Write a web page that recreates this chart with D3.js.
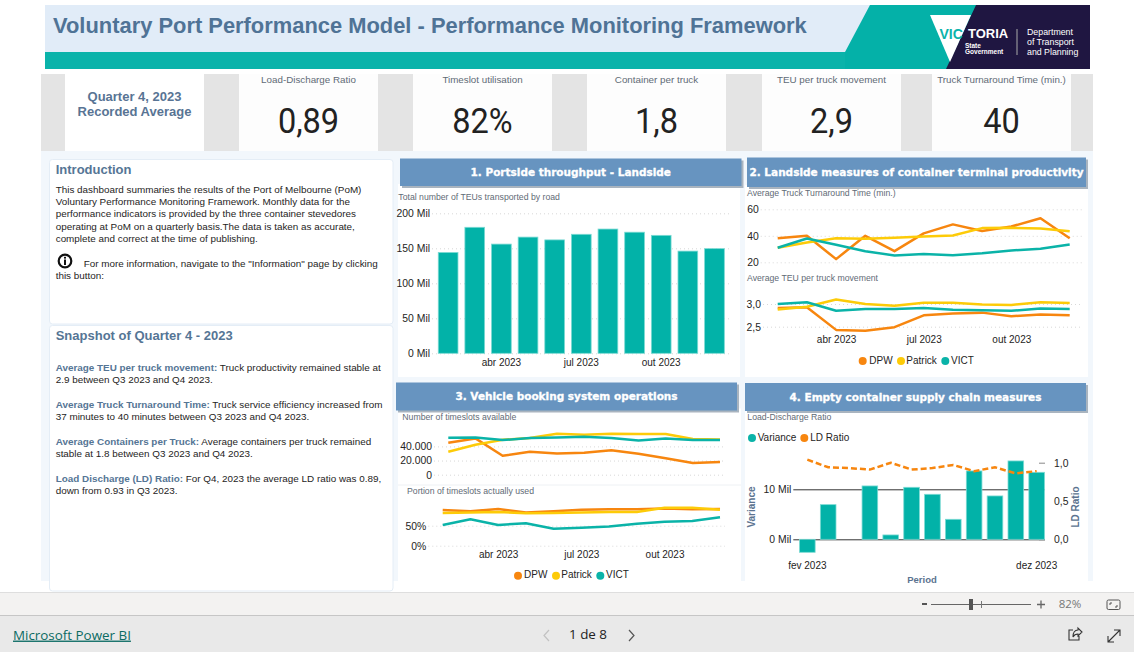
<!DOCTYPE html>
<html><head><meta charset="utf-8">
<script src="https://cdn.jsdelivr.net/npm/d3@7/dist/d3.min.js"></script>
<style>html,body{margin:0;padding:0;background:#fff;overflow:hidden}svg{display:block}text{font-family:"Liberation Sans",Arial,sans-serif}</style>
</head><body><svg id="c" width="1134" height="652"></svg>
<script>
const months=["fev 2023","mar 2023","abr 2023","mai 2023","jun 2023","jul 2023","ago 2023","set 2023","out 2023","nov 2023","dez 2023"];
const quarterTicks=["abr 2023","jul 2023","out 2023"];
const throughput=[144,180,156,166,162,170,177.5,173,168.5,146,149.5];
const turnDPW=[38.2,40,22.4,40,28.4,41.8,48.6,43.6,47,53.3,38.2];
const turnPatrick=[31,35,38.2,37.7,38.5,39.5,40.2,45.8,46,45.5,43.5];
const turnVICT=[31,38,33.2,28.4,25.2,26.2,25.4,26.9,28.9,30.2,33.5];
const teuDPW=[2.91,2.93,2.43,2.41,2.49,2.75,2.79,2.81,2.73,2.77,2.75];
const teuPatrick=[2.88,2.94,3.10,3.0,2.96,3.03,3.03,2.99,2.98,3.04,3.02];
const teuVICT=[3.0,3.04,2.85,2.89,2.89,2.91,2.875,2.86,2.85,2.9,2.89];
const slotsDPW=[45200,51300,26800,32500,30100,31100,34400,29600,23100,16500,17900];
const slotsPatrick=[32500,42400,49400,51800,57900,56500,57900,57400,57400,50400,49900];
const slotsVICT=[52200,52700,48900,51800,52700,53600,51800,48500,51300,48900,48900];
const usedDPW=[89,86,92,83,86,90,91,91,93,91,92];
const usedPatrick=[82,83,84,81,82,83,84,84,95,95,90];
const usedVICT=[52,66,52,56,42.5,45,48,55,60,62,71];
const variance=[-2.6,6.93,null,10.67,0.87,10.4,9.0,4.0,13.67,8.67,15.67,13.4];
const ldRatio=[1.04,0.94,0.93,0.91,1.0,0.91,0.93,0.97,0.89,0.94,0.86,0.89];
const periodTickLabels=["fev 2023","dez 2023"];
const kpiLabels=["Load-Discharge Ratio","Timeslot utilisation","Container per truck","TEU per truck movement","Truck Turnaround Time (min.)"];
const kpiValues=["0,89","82%","1,8","2,9","40"];
const seriesNames=["DPW","Patrick","VICT"];
const introLines=["This dashboard summaries the results of the Port of Melbourne (PoM)","Voluntary Performance Monitoring Framework. Monthly data for the","performance indicators is provided by the three container stevedores","operating at PoM on a quarterly basis.The data is taken as accurate,","complete and correct at the time of publishing."];
const snapshot=[["Average TEU per truck movement:"," Truck productivity remained stable at","2.9 between Q3 2023 and Q4 2023."],["Average Truck Turnaround Time:"," Truck service efficiency increased from","37 minutes to 40 minutes between Q3 2023 and Q4 2023."],["Average Containers per Truck:"," Average containers per truck remained","stable at 1.8 between Q3 2023 and Q4 2023."],["Load Discharge (LD) Ratio:"," For Q4, 2023 the average LD ratio was 0.89,","down from 0.93 in Q3 2023."]];

const ORANGE="#f7860f",YELLOW="#fdcb08",TEAL="#0ab3a8",BAR="#02b2a8",HEAD="#557595",GREY="#5f6b76",INK="#252423";
const colors=[ORANGE,YELLOW,TEAL];
const svg=d3.select("#c");
function rect(x0,y0,x1,y1,fill,extra={}){const r=svg.append("rect").attr("x",x0).attr("y",y0).attr("width",x1-x0).attr("height",y1-y0).attr("fill",fill);for(const k in extra)r.attr(k,extra[k]);return r;}
function text(x,y,s,o={}){const t=svg.append("text").attr("x",x).attr("y",y).attr("dominant-baseline","middle").attr("font-size",o.size||10).attr("fill",o.fill||INK).attr("text-anchor",o.anchor||"start").text(s);
 if(o.weight)t.attr("font-weight",o.weight);if(o.family)t.style("font-family",o.family);if(o.ls)t.attr("letter-spacing",o.ls);if(o.stroke){t.attr("stroke",o.stroke).attr("stroke-width",o.sw||.3);}if(o.rotate)t.attr("transform",`rotate(${o.rotate} ${x} ${y})`);return t;}

// page background
rect(41,150,1093,581,"#f2f7fc");
// header
rect(45,5,1090,69,"#e1ecf8");
rect(45,52,1090,69,"#0ab3aa");
svg.append("path").attr("d","M870,5L1090,5L1090,69L845,69L845,52L845,52Z").attr("fill","#04b1a8");
svg.append("path").attr("d","M976,5L1090,5L1090,69L946,69Z").attr("fill","#1f1641");
svg.append("path").attr("d","M930,15L971,15L950,62Z").attr("fill","#fff");
text(53,27.5,"Voluntary Port Performance Model - Performance Monitoring Framework",{size:21.9,weight:"bold",fill:"#4f7396"});
text(939.5,35,"VIC",{size:14,weight:"bold",fill:"#0ab3aa"});
text(968,35,"TORIA",{size:13,weight:"bold",fill:"#fff"});
text(965,46,"State",{size:6.5,weight:"bold",fill:"#fff"});
text(965,52.5,"Government",{size:6.5,weight:"bold",fill:"#fff"});
svg.append("line").attr("x1",1017).attr("x2",1017).attr("y1",29).attr("y2",55).attr("stroke","#aaa");
["Department","of Transport","and Planning"].forEach((s,i)=>text(1027,33+i*9.7,s,{size:8.8,fill:"#fff"}));
// KPI strip
rect(41,74,1093,151,"#e4e4e4");
rect(65,74,204,151,"#fff");
text(134.5,97.5,"Quarter 4, 2023",{size:13,weight:"bold",fill:"#587494",anchor:"middle"});
text(134.5,112.5,"Recorded Average",{size:13,weight:"bold",fill:"#587494",anchor:"middle"});
const kpiCentres=[308.5,482.5,656.5,831.5,1001.5];
kpiLabels.forEach((k,i)=>{const c=kpiCentres[i];
 rect(c-69.5,74,c+69.5,151,"#fdfdfd");
 text(c,80,k,{size:9.8,fill:GREY,anchor:"middle"});
 const v=text(0,0,kpiValues[i],{size:35,fill:"#222",anchor:"middle",family:"Roboto"}).attr("font-weight",400);
 v.attr("transform",`translate(${c},124) scale(.93,1)`);
});
// left panels
rect(49.5,159.5,393,324,"#fff",{stroke:"#e4edf6",rx:3});
rect(49.5,325.5,393,591,"#fff",{stroke:"#e4edf6",rx:3});
text(55.7,170.5,"Introduction",{size:13,weight:"bold",fill:HEAD});
const introY=[190,202,214.3,227,239];
introLines.forEach((s,i)=>text(55.7,introY[i],s,{size:9.9}));
rect(54,250,77,272,"#fff");
svg.append("circle").attr("cx",65).attr("cy",261).attr("r",6.3).attr("fill","#fff").attr("stroke","#111").attr("stroke-width",2.2);
svg.append("rect").attr("x",64).attr("y",259.5).attr("width",2).attr("height",5.5).attr("fill","#111");
svg.append("rect").attr("x",64).attr("y",256.8).attr("width",2).attr("height",1.8).attr("fill","#111");
text(83.7,264,"For more information, navigate to the \"Information\" page by clicking",{size:9.9});
text(55.7,276,"this button:",{size:9.9});
text(55.7,336.5,"Snapshot of Quarter 4 - 2023",{size:13,weight:"bold",fill:HEAD});
snapshot.forEach((p,i)=>{const y=368+i*37;
 const t=text(55.7,y,"",{size:9.9});
 t.append("tspan").attr("font-weight","bold").attr("fill",HEAD).text(p[0]);
 t.append("tspan").text(p[1]);
 text(55.7,y+12,p[2],{size:9.9});
});
// chart panels
function panel(bx0,bx1,by0,by1,wx0,wx1,wy1,title){
 rect(wx0,by1-2,wx1,wy1,"#fff");
 rect(bx0+2,by0+2,bx1+2,by1+2,"#a9b4bf");
 rect(bx0,by0,bx1,by1,"#6794c0");
 text((bx0+bx1)/2,(by0+by1)/2+.5,title,{size:10.5,fill:"#fff",anchor:"middle",weight:"bold",family:"DejaVu Sans",stroke:"#fff",sw:.3});
}
panel(400,741.5,158.5,186,398,740,377,"1. Portside throughput - Landside");
panel(747,1086,157.5,187,745,1088,377,"2. Landside measures of container terminal productivity");
panel(396,737,382.5,410.5,398,741,590,"3. Vehicle booking system operations");
panel(745,1086,383,411,745,1088,590,"4. Empty container supply chain measures");
const SUB={size:8.7,fill:GREY};
text(398.3,197.5,"Total number of TEUs transported by road",SUB);
text(747,193.5,"Average Truck Turnaround Time (min.)",SUB);
text(747,278.5,"Average TEU per truck movement",SUB);
text(402.3,417.5,"Number of timeslots available",SUB);
text(407,491.5,"Portion of timeslots actually used",SUB);
text(747.3,417.5,"Load-Discharge Ratio",SUB);

function yAxis(scale,ticks,fmt,labelRight,gridEnd){
 const g=svg.append("g").attr("transform",`translate(${labelRight+2},0)`).call(d3.axisLeft(scale).tickValues(ticks).tickFormat(fmt).tickSize(-(gridEnd-labelRight-2)).tickPadding(2));
 g.select(".domain").remove();
 g.selectAll("line").attr("stroke","#d8d8d8").attr("stroke-dasharray","1,3");
 g.selectAll("text").attr("font-size",10.4).attr("fill",INK).style("font-family",'"Liberation Sans"');
 return g;
}
function xLabels(scale,ticks,y,fmt){
 const g=svg.append("g").attr("transform",`translate(0,${y})`).call(d3.axisBottom(scale).tickValues(ticks).tickFormat(fmt||(d=>d)).tickSize(0).tickPadding(0));
 g.select(".domain").remove();
 g.selectAll("text").attr("dy",0).attr("dominant-baseline","middle").attr("font-size",10).attr("fill",INK).style("font-family",'"Liberation Sans"');
}
function lines(x,y,seriesList,width=2.5){
 const gen=d3.line().x((d,i)=>x(months[i])).y(d=>y(d));
 svg.append("g").selectAll("path").data(seriesList).join("path").attr("d",d=>gen(d)).attr("fill","none").attr("stroke",(d,i)=>colors[i]).attr("stroke-width",width).attr("stroke-linejoin","round");
}
function legend(cx,tx,y,names,cols){
 names.forEach((n,i)=>{svg.append("circle").attr("cx",cx[i]).attr("cy",y).attr("r",4).attr("fill",cols[i]);
  text(tx[i],y,n,{size:10});});
}
// chart 1
const x1=d3.scaleBand().domain(months).range([434.8,727.8]).paddingInner(.26).paddingOuter(.13);
const y1=d3.scaleLinear().domain([0,200]).range([353.3,213.3]);
yAxis(y1,[0,50,100,150,200],d=>d+" Mil",430,730);
svg.append("g").selectAll("rect").data(throughput).join("rect").attr("x",(d,i)=>x1(months[i])).attr("width",x1.bandwidth()).attr("y",d=>y1(d)).attr("height",d=>y1(0)-y1(d)).attr("fill",BAR).attr("stroke","#7bdad3").attr("stroke-width",.8);
xLabels(x1,quarterTicks,363.5);
// chart 2
const x2=d3.scalePoint().domain(months).range([777.7,1069.7]);
const y2a=d3.scaleLinear().domain([20,60]).range([262.3,209.3]);
const y2b=d3.scaleLinear().domain([2.5,3]).range([326.7,304]);
yAxis(y2a,[20,40,60],d=>d,758.7,1082);
yAxis(y2b,[2.5,3],d=>d3.format(".1f")(d).replace(".",","),761,1082);
lines(x2,y2a,[turnDPW,turnPatrick,turnVICT]);
lines(x2,y2b,[teuDPW,teuPatrick,teuVICT]);
xLabels(x2,quarterTicks,340.5);
legend([862.7,901,945.3],[869.3,906.3,951],361,seriesNames,colors);
// chart 3
const x3a=d3.scalePoint().domain(months).range([448.3,720]);
const x3b=d3.scalePoint().domain(months).range([442.7,720]);
const y3a=d3.scaleLinear().domain([0,40000]).range([474.7,446.4]);
const y3b=d3.scaleLinear().domain([0,50]).range([545.7,525.7]);
yAxis(y3a,[0,20000,40000],d=>d3.format(",")(d).replace(",","."),432,725);
yAxis(y3b,[0,50],d=>d+"%",426.3,725);
lines(x3a,y3a,[slotsDPW,slotsPatrick,slotsVICT]);
lines(x3b,y3b,[usedDPW,usedPatrick,usedVICT]);
svg.append("line").attr("x1",398).attr("x2",741).attr("y1",485).attr("y2",485).attr("stroke","#eef1f4");
xLabels(x3b,quarterTicks,555.7);
legend([518,556,600.3],[524,561.3,606],575.7,seriesNames,colors);
// chart 4
const slots=d3.range(variance.length);
const x4=d3.scaleBand().domain(slots).range([796.9,1047.1]).paddingInner(.25).paddingOuter(.125);
const y4=d3.scaleLinear().domain([0,10]).range([539.3,489.3]);
const y4r=d3.scaleLinear().domain([0,1]).range([539.3,462.7]);
const gl=svg.append("g").attr("transform","translate(793.3,0)").call(d3.axisLeft(y4).tickValues([0,10]).tickFormat(d=>d+" Mil").tickSize(-(1045-793.3)).tickPadding(2));
gl.select(".domain").remove();gl.selectAll("line").attr("stroke","#333").attr("stroke-width",1);
gl.selectAll("text").attr("font-size",10.4).attr("fill",INK).style("font-family",'"Liberation Sans"');
const gr=svg.append("g").attr("transform","translate(1045,0)").call(d3.axisRight(y4r).tickValues([0,.5,1]).tickFormat(d=>d3.format(".1f")(d).replace(".",",")).tickSize(-6).tickPadding(9));
gr.select(".domain").remove();gr.selectAll("line").attr("stroke","#888").attr("stroke-width",1);
gr.selectAll("text").attr("font-size",10.4).attr("fill",INK).style("font-family",'"Liberation Sans"');
gr.selectAll("g.tick").filter(d=>d===.5).select("line").remove();
const present=slots.filter(i=>variance[i]!==null);
svg.append("g").selectAll("rect").data(present).join("rect").attr("x",i=>x4(i)).attr("width",x4.bandwidth()).attr("y",i=>y4(Math.max(0,variance[i]))).attr("height",i=>Math.abs(y4(variance[i])-y4(0))).attr("fill",BAR).attr("stroke","#7bdad3").attr("stroke-width",.8);
svg.append("path").attr("d",d3.line().x((d,i)=>x4(i)+x4.bandwidth()/2).y(d=>y4r(d))(ldRatio)).attr("fill","none").attr("stroke",ORANGE).attr("stroke-width",2.5).attr("stroke-dasharray","6,3");
xLabels(x4,[0,variance.length-1],566.3,i=>periodTickLabels[i?1:0]);
legend([752,804.3],[757.7,810.3],438,["Variance","LD Ratio"],[TEAL,ORANGE]);
text(922,580.5,"Period",{size:9.5,weight:"bold",fill:"#5b7390",anchor:"middle"});
text(752,507,"Variance",{size:10,weight:"bold",fill:"#5b7390",anchor:"middle",rotate:-90});
text(1076,507,"LD Ratio",{size:10,weight:"bold",fill:"#5b7390",anchor:"middle",rotate:-90});
// toolbar & footer
rect(0,592,1134,615,"#f3f2f1");
rect(0,592,1134,593,"#dedede");
rect(0,615,1134,652,"#e9e9e9");
rect(0,615,1134,616,"#c6c6c6");
text(13,636,"Microsoft Power BI",{size:13.4,fill:"#0b6b63",family:"Open Sans"}).attr("text-decoration","underline");
text(569,635.5,"1 de 8",{size:13.4,fill:"#222",family:"Open Sans"});
svg.append("path").attr("d","M549,630L544,635.5L549,641").attr("fill","none").attr("stroke","#c2c2c2").attr("stroke-width",1.2);
svg.append("path").attr("d","M629,630L634,635.5L629,641").attr("fill","none").attr("stroke","#555").attr("stroke-width",1.2);
svg.append("rect").attr("x",922).attr("y",603).attr("width",5).attr("height",2).attr("fill","#555");
svg.append("line").attr("x1",931).attr("x2",1031).attr("y1",604.5).attr("y2",604.5).attr("stroke","#666");
svg.append("rect").attr("x",969).attr("y",599).attr("width",4).attr("height",11).attr("fill","#555");
svg.append("line").attr("x1",981.5).attr("x2",981.5).attr("y1",601).attr("y2",608).attr("stroke","#777");
svg.append("path").attr("d","M1037,604.5H1045M1041,600.5V608.5").attr("stroke","#666").attr("stroke-width",1.3);
text(1070,604.5,"82%",{size:11.5,fill:"#777",anchor:"middle",family:"Open Sans"});
svg.append("rect").attr("x",1107).attr("y",600).attr("width",13).attr("height",9.5).attr("rx",1.5).attr("fill","none").attr("stroke","#555");
svg.append("path").attr("d","M1110,605V603H1112M1117,605V607H1115").attr("fill","none").attr("stroke","#555");
svg.append("path").attr("d","M1073,630H1069V640H1079V636M1073,637C1073,632 1075,630 1078,630V628L1082,632L1078,636V634C1076,634 1074,635 1073,637Z").attr("fill","none").attr("stroke","#333").attr("stroke-width",1.1);
svg.append("path").attr("d","M1108,642L1120,630M1114,630H1120V636M1108,636V642H1114").attr("fill","none").attr("stroke","#333").attr("stroke-width",1.1);
</script></body></html>
